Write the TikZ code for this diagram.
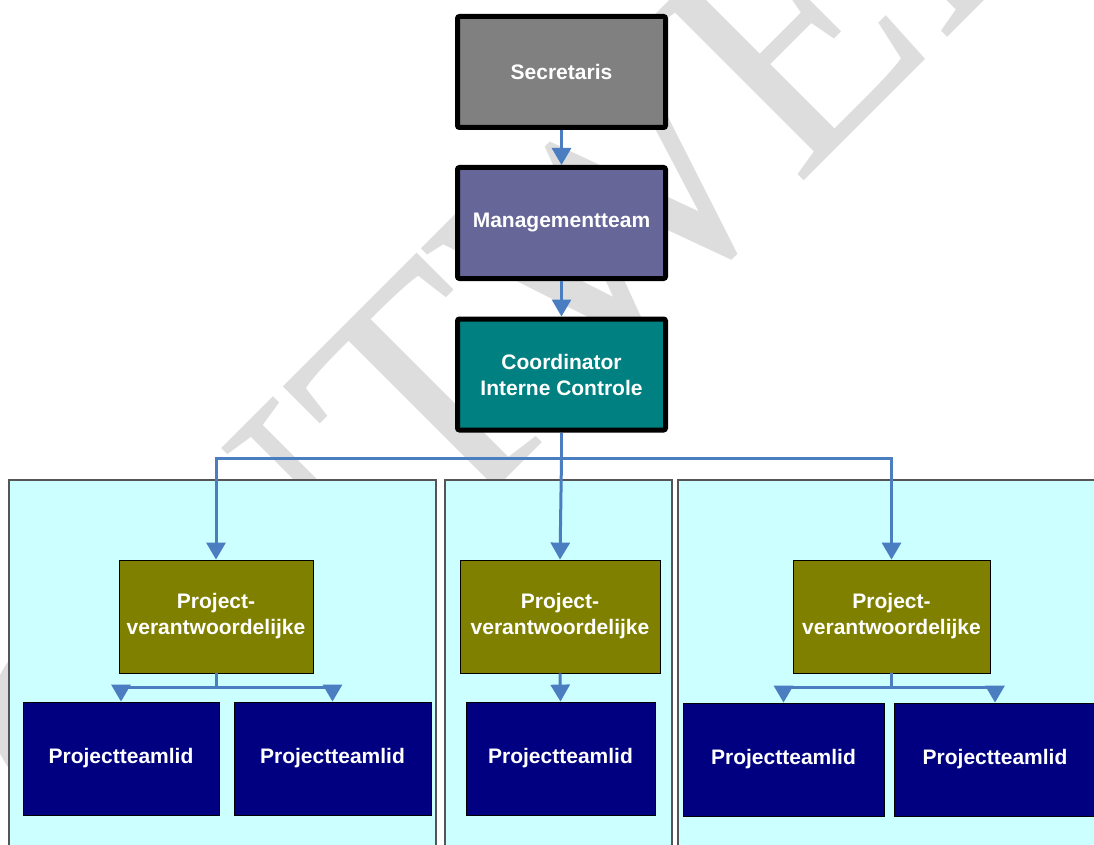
\documentclass[tikz,border=0pt]{standalone}
\usepackage{fontspec}
\usepackage{graphicx}
\setmainfont{Liberation Sans}
\newfontfamily\wmfont{Liberation Serif}
\usetikzlibrary{arrows.meta}
\definecolor{wmgray}{HTML}{DDDDDD}
\definecolor{connblue}{HTML}{4A7EC1}
\definecolor{secgray}{HTML}{808080}
\definecolor{mgmtpurple}{HTML}{666699}
\definecolor{coordteal}{HTML}{008080}
\definecolor{pvolive}{HTML}{808000}
\definecolor{ptnavy}{HTML}{000080}
\definecolor{panelcyan}{HTML}{CCFFFF}
\definecolor{panelline}{HTML}{555555}
\tikzset{
  topbox/.style={draw=black, line width=5pt, rounded corners=2pt, minimum width=208pt, minimum height=111pt,
    text=white, font=\fontsize{21}{26}\selectfont\bfseries, align=center, inner sep=0pt},
  pvbox/.style={draw=black, line width=0.8pt, fill=pvolive, minimum height=113pt,
    text=white, font=\fontsize{21}{26}\selectfont\bfseries, align=center, inner sep=0pt},
  ptbox/.style={draw=black, line width=0.8pt, fill=ptnavy, minimum height=113pt,
    text=white, font=\fontsize{21}{26}\selectfont\bfseries, align=center, inner sep=0pt},
  panel/.style={draw=panelline, line width=1.2pt, fill=panelcyan},
  conn/.style={draw=connblue, line width=3pt, -{Triangle[width=19pt,length=17pt]}},
  connplain/.style={draw=connblue, line width=3pt},
  watermark/.style={text=wmgray, font=\wmfont\fontsize{340}{340}\selectfont, inner sep=0pt, outer sep=0pt}
}
\begin{document}
\begin{tikzpicture}[x=1pt,y=-1pt]
\useasboundingbox (0,0) rectangle (1094,845);
\clip (0,0) rectangle (1094,845);
\fill[white] (0,0) rectangle (1094,845);
% watermark
\node[watermark, rotate=45, anchor=base west] (wm) at (101,884) {\scalebox{0.966}[1]{ONTWERP}};
% panels
\path[panel] (9,480) rectangle (436,860);
\path[panel] (445,480) rectangle (672,860);
\path[panel] (678,480) rectangle (1110,860);
% top boxes
\node[topbox, fill=secgray] (sec) at (561.5,72) {Secretaris};
\node[topbox, fill=mgmtpurple] (mgmt) at (561.5,223) {Managementteam};
\node[topbox, fill=coordteal] (coord) at (561.5,374.5) {Coordinator\\Interne Controle};
% project leaders
\node[pvbox, minimum width=194pt] (pv1) at (216,616.5) {Project-\\verantwoordelijke};
\node[pvbox, minimum width=200pt] (pv2) at (560,616.5) {Project-\\verantwoordelijke};
\node[pvbox, minimum width=197pt] (pv3) at (891.5,616.5) {Project-\\verantwoordelijke};
% team members
\node[ptbox, minimum width=196pt] (t11) at (121,758.5) {Projectteamlid};
\node[ptbox, minimum width=197pt] (t12) at (332.5,758.5) {Projectteamlid};
\node[ptbox, minimum width=189pt] (t21) at (560.5,758.5) {Projectteamlid};
\node[ptbox, minimum width=201pt] (t31) at (783.5,759.5) {Projectteamlid};
\node[ptbox, minimum width=202pt] (t32) at (995,759.5) {Projectteamlid};
% connectors
\draw[conn] (sec.south) -- (mgmt.north);
\draw[conn] (mgmt.south) -- (coord.north);
\coordinate (split) at (561.5,458);
\draw[connplain] (coord.south) -- (split);
\draw[conn] (split) -| (pv1.north);
\draw[conn] (split) -| (pv3.north);
\draw[conn] (split) -- (pv2.north);
\coordinate (s1) at (216,687);
\coordinate (s3) at (891.5,687);
\draw[connplain] (pv1.south) -- (s1);
\draw[conn] (s1) -| (t11.north);
\draw[conn] (s1) -| (t12.north);
\draw[conn] (pv2.south) -- (t21.north);
\draw[connplain] (pv3.south) -- (s3);
\draw[conn] (s3) -| (t31.north);
\draw[conn] (s3) -| (t32.north);
\end{tikzpicture}
\end{document}
